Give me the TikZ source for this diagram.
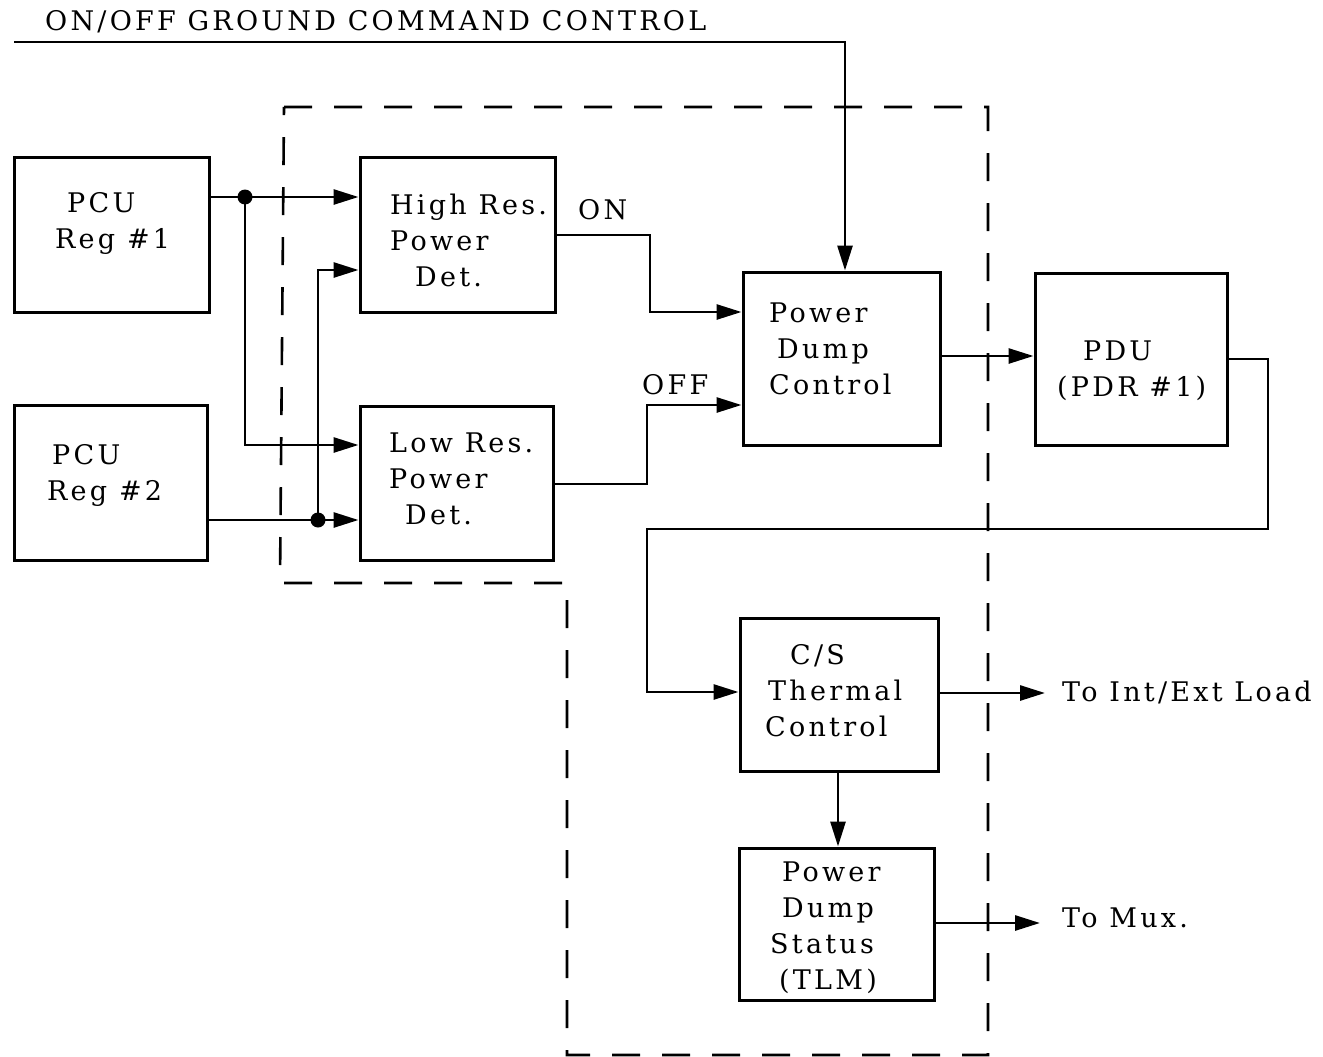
\documentclass[tikz,border=0pt]{standalone}
\usepackage{fontspec}
\setmainfont{DejaVu Serif}[LetterSpace=12]
\usetikzlibrary{arrows.meta}
\begin{document}
\begin{tikzpicture}[x=1pt,y=-1pt,
  box/.style={draw, line width=3pt, minimum width=#1, inner sep=0pt},
  txt/.style={font=\fontsize{27}{36}\selectfont, align=left, anchor=west, inner sep=0pt},
  conn/.style={line width=2.8pt},
  arr/.style={conn, -{Triangle[length=25pt,width=15pt]}},
  dot/.style={circle, fill, inner sep=0pt, minimum size=15pt},
  bound/.style={line width=2.6pt, dash pattern=on 28pt off 22pt}]
\useasboundingbox (0,0) rectangle (1323,1057);

% boxes
\node[box=195pt, minimum height=155pt] (pcu1) at (111.5,234.5) {};
\node[box=193pt, minimum height=155pt] (pcu2) at (110.5,482.5) {};
\node[box=195pt, minimum height=155pt] (hi) at (457.5,234.5) {};
\node[box=193pt, minimum height=154pt] (lo) at (456.5,483) {};
\node[box=197pt, minimum height=173pt] (pdc) at (841.5,358.5) {};
\node[box=192pt, minimum height=172pt] (pdu) at (1131,359) {};
\node[box=198pt, minimum height=153pt] (cs) at (839,694.5) {};
\node[box=195pt, minimum height=152pt] (pds) at (836.5,924) {};

% box texts
\node[txt] (tpcu1) at (55,223) {\hspace*{12pt}PCU\\Reg \#1};
\node[txt] (tpcu2) at (47,475) {\hspace*{5pt}PCU\\Reg \#2};
\node[txt] (thi) at (390,240) {High Res.\\Power\\\hspace*{25pt}Det.};
\node[txt] (tlo) at (389,479) {Low Res.\\Power\\\hspace*{16pt}Det.};
\node[txt] (tpdc) at (769,349) {Power\\\hspace*{8pt}Dump\\Control};
\node[txt] (tpdu) at (1057,371) {\hspace*{26pt}PDU\\(PDR \#1)};
\node[txt] (tcs) at (765,691) {\hspace*{25pt}C/S\\\hspace*{3pt}Thermal\\Control};
\node[txt] (tpds) at (770,928) {\hspace*{12pt}Power\\\hspace*{12pt}Dump\\Status\\\hspace*{9pt}(TLM)};

% labels
\node[txt] (title) at (45,22) {ON/OFF GROUND COMMAND CONTROL};
\node[txt] (on) at (578,210) {ON};
\node[txt] (off) at (642,385) {OFF};
\node[txt] (load) at (1062,692) {To Int/Ext Load};
\node[txt] (mux) at (1062,918) {To Mux.};

% dashed boundary
\draw[bound] (284,107) -- (988,107) -- (988,1055) -- (567,1055) -- (567,583) -- (280,583) -- cycle;

% ground command
\coordinate (gc) at (14,42);
\draw[arr] (gc) -| ([xshift=3.5pt]pdc.north);

% PCU 1 distribution
\coordinate (d1) at (245,197);
\draw[conn] (pcu1.east |- d1) -- (d1);
\draw[arr] (d1) -- (d1 -| hi.west);
\coordinate (lo1) at (245,445);
\draw[arr] (d1) -- (lo1) -- (lo1 -| lo.west);
\node[dot] (dot1) at (d1) {};

% PCU 2 distribution
\coordinate (d2) at (318,520);
\draw[conn] (pcu2.east |- d2) -- (d2);
\draw[arr] (d2) -- (d2 -| lo.west);
\coordinate (hi2) at (318,270);
\draw[arr] (d2) -- (hi2) -- (hi2 -| hi.west);
\node[dot] (dot2) at (d2) {};

% detectors to power dump control
\coordinate (on1) at (650,235);
\coordinate (on2) at (650,312);
\draw[arr] (hi.east |- on1) -- (on1) -- (on2) -- (on2 -| pdc.west);
\coordinate (off1) at (647,484);
\coordinate (off2) at (647,405);
\draw[arr] (lo.east |- off1) -- (off1) -- (off2) -- (off2 -| pdc.west);

% PDC to PDU
\coordinate (p1) at (940,356);
\draw[arr] (pdc.east |- p1) -- (p1 -| pdu.west);

% PDU to C/S
\coordinate (r1) at (1268,359);
\coordinate (r2) at (1268,529);
\coordinate (r3) at (647,529);
\coordinate (r4) at (647,692);
\draw[arr] (pdu.east |- r1) -- (r1) -- (r2) -- (r3) -- (r4) -- (r4 -| cs.west);

% outputs
\coordinate (o1) at (1045,693);
\draw[arr] (cs.east |- o1) -- (o1);
\draw[arr] (cs.south -| 838,0) -- (pds.north -| 838,0);
\coordinate (o2) at (1040,923);
\draw[arr] (pds.east |- o2) -- (o2);
\end{tikzpicture}
\end{document}
